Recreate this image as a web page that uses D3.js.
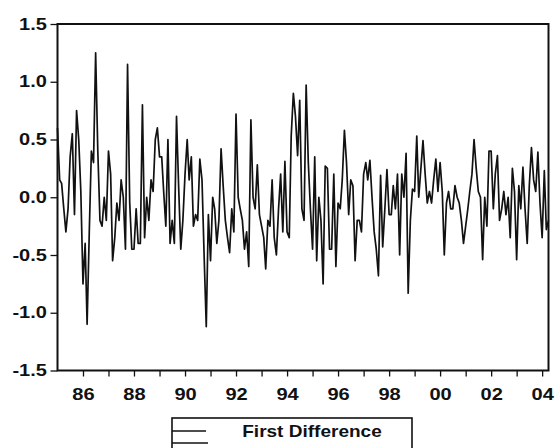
<!DOCTYPE html>
<html>
<head>
<meta charset="utf-8">
<script src="https://cdn.jsdelivr.net/npm/d3@7"></script>
<style>
  body { margin: 0; background: #fff; }
  svg { display: block; }
  text { font-family: "Liberation Sans", Arial, sans-serif; font-weight: bold; fill: #111; }
</style>
</head>
<body>
<svg id="chart" width="556" height="448"></svg>
<script>
// monthly first differences, 1985M01 onwards
var firstDiff = [
   0.60, 0.15, 0.12,-0.10,-0.30,-0.10, 0.35, 0.55,-0.15, 0.75, 0.50, 0.05,  // 1985
  -0.75,-0.40,-1.10,-0.30, 0.40, 0.30, 1.25, 0.40,-0.20,-0.25, 0.00,-0.20,  // 1986
   0.40, 0.20,-0.55,-0.35,-0.05,-0.20, 0.15, 0.00,-0.45, 1.15,-0.05,-0.45,  // 1987
  -0.45,-0.10,-0.40,-0.40, 0.80,-0.35, 0.00,-0.20, 0.15, 0.05, 0.50, 0.60,  // 1988
   0.35, 0.35, 0.05,-0.25, 0.50,-0.40,-0.20,-0.40, 0.70, 0.10,-0.45,-0.20,  // 1989
   0.20, 0.50, 0.15, 0.35,-0.25,-0.15,-0.20, 0.33, 0.15,-0.50,-1.12,-0.15,  // 1990
  -0.55, 0.00,-0.10,-0.40,-0.20, 0.42, 0.10,-0.20,-0.35,-0.48,-0.10,-0.30,  // 1991
   0.72, 0.00,-0.10,-0.20,-0.45,-0.30,-0.60, 0.67, 0.00,-0.10, 0.28,-0.15,  // 1992
  -0.25,-0.35,-0.62,-0.20,-0.25, 0.15,-0.35,-0.50,-0.10, 0.20,-0.30, 0.31,  // 1993
  -0.30,-0.35, 0.53, 0.90, 0.70, 0.36, 0.84,-0.10,-0.20, 0.97, 0.30,-0.10,  // 1994
  -0.45, 0.35,-0.55, 0.00,-0.20,-0.75, 0.27, 0.25,-0.45,-0.45, 0.20,-0.60,  // 1995
  -0.05,-0.10, 0.15, 0.58, 0.30,-0.15, 0.15, 0.10,-0.55,-0.20,-0.20,-0.30,  // 1996
   0.20, 0.30, 0.15, 0.32, 0.00,-0.30,-0.45,-0.68, 0.19,-0.43,-0.10, 0.24,  // 1997
  -0.15,-0.15, 0.10,-0.10, 0.20,-0.50, 0.20, 0.00, 0.38,-0.83,-0.20, 0.07,  // 1998
   0.05, 0.53, 0.00, 0.25, 0.49, 0.20,-0.05, 0.05,-0.05, 0.15, 0.33, 0.05,  // 1999
   0.30, 0.05,-0.50,-0.05, 0.05,-0.10,-0.10, 0.10, 0.00,-0.05,-0.20,-0.40,  // 2000
  -0.25,-0.10, 0.05, 0.20, 0.50, 0.25, 0.05, 0.00,-0.54, 0.00,-0.25, 0.40,  // 2001
   0.40,-0.10, 0.20, 0.36,-0.20,-0.10, 0.05,-0.15, 0.00,-0.35, 0.25, 0.05,  // 2002
  -0.54, 0.10,-0.10, 0.26,-0.10,-0.40, 0.10, 0.43, 0.15, 0.05, 0.39,-0.05,  // 2003
  -0.35, 0.23,-0.28,-0.20                                                    // 2004
];
var startYear = 1985;
var yTicks = [-1.5, -1.0, -0.5, 0.0, 0.5, 1.0, 1.5];
var legendLabel = "First Difference";

var svg = d3.select("#chart");
var plotLeft = 57.5, plotRight = 548.5, plotTop = 24, plotBottom = 370.5;

var data = firstDiff.map(function(v, i) {
  return { date: new Date(startYear, i, 1), value: v };
});

var x = d3.scaleTime()
  .domain([new Date(startYear, 0, 1), new Date(startYear, firstDiff.length - 1, 1)])
  .range([plotLeft, plotRight]);
var y = d3.scaleLinear().domain([-1.5, 1.5]).range([plotBottom, plotTop]);

// x axis: tick every year, label every second year
var xAxis = d3.axisBottom(x)
  .tickValues(d3.timeYear.range(new Date(startYear + 1, 0, 1), new Date(2004, 1, 1)))
  .tickSize(6)
  .tickSizeOuter(0)
  .tickFormat(function(d) { return d.getFullYear() % 2 === 0 ? d3.timeFormat("%y")(d) : ""; });

var gx = svg.append("g")
  .attr("transform", "translate(0," + plotBottom + ")")
  .call(xAxis);
gx.select(".domain").remove();
gx.selectAll("line").attr("stroke", "#111").attr("stroke-width", 1.3);
gx.selectAll("text")
  .attr("y", 29.5).attr("dy", 0)
  .attr("font-size", 17)
  .attr("transform", "scale(1.18,1)");

// plain hyphen for negatives, like the original
var fmt = d3.format(".1f");
var yAxis = d3.axisLeft(y)
  .tickValues(yTicks)
  .tickSize(7)
  .tickSizeOuter(0)
  .tickFormat(function(d) { return fmt(d).replace("\u2212", "-"); });

var gy = svg.append("g")
  .attr("transform", "translate(" + plotLeft + ",0)")
  .call(yAxis);
gy.select(".domain").remove();
gy.selectAll("line").attr("stroke", "#111").attr("stroke-width", 1.3);
gy.selectAll("text")
  .attr("x", -8.5)
  .attr("font-size", 16)
  .attr("transform", "scale(1.25,1)");

// frame
svg.append("rect")
  .attr("x", plotLeft).attr("y", plotTop)
  .attr("width", plotRight - plotLeft).attr("height", plotBottom - plotTop)
  .attr("fill", "none").attr("stroke", "#111").attr("stroke-width", 2);

// series
var line = d3.line()
  .x(function(d) { return x(d.date); })
  .y(function(d) { return y(d.value); });

svg.append("path")
  .datum(data)
  .attr("d", line)
  .attr("fill", "none")
  .attr("stroke", "#111")
  .attr("stroke-width", 1.7)
  .attr("stroke-linejoin", "round");

// legend (cut off at the bottom of the picture)
var lg = svg.append("g");
lg.append("rect")
  .attr("x", 172).attr("y", 418)
  .attr("width", 240).attr("height", 50)
  .attr("fill", "none").attr("stroke", "#111").attr("stroke-width", 1.6);
lg.append("line")
  .attr("x1", 172).attr("x2", 206).attr("y1", 431).attr("y2", 431)
  .attr("stroke", "#111").attr("stroke-width", 1.3);
lg.append("line")
  .attr("x1", 172).attr("x2", 208).attr("y1", 443).attr("y2", 443)
  .attr("stroke", "#111").attr("stroke-width", 1.3);
lg.append("text")
  .attr("transform", "translate(312,437) scale(1.12,1)")
  .attr("text-anchor", "middle")
  .attr("font-size", 17)
  .text(legendLabel);
</script>
</body>
</html>
